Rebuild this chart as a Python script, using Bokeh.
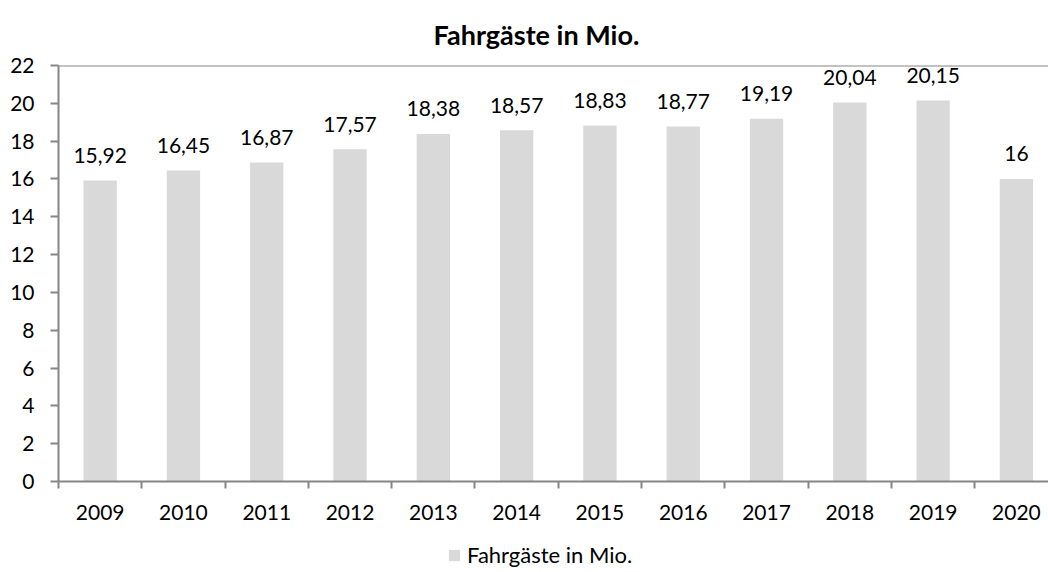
from bokeh.plotting import figure
from bokeh.layouts import column
from bokeh.models import (Range1d, FixedTicker, ColumnDataSource, Legend, LegendItem,
                          Span, Title)
from bokeh.core.properties import value
from bokeh.embed import file_html
from bokeh.resources import INLINE

years = ["2009", "2010", "2011", "2012", "2013", "2014", "2015", "2016", "2017", "2018", "2019", "2020"]
passengers = [15.92, 16.45, 16.87, 17.57, 18.38, 18.57, 18.83, 18.77, 19.19, 20.04, 20.15, 16.0]
y_ticks = [0, 2, 4, 6, 8, 10, 12, 14, 16, 18, 20, 22]
series_name = "Fahrgäste in Mio."

def fmt(v):
    if float(v).is_integer():
        return str(int(v))
    return f"{v:.2f}".replace(".", ",")

xs = list(range(len(years)))
src = ColumnDataSource(dict(x=xs, y=passengers, lbl=[fmt(v) for v in passengers]))

FONT = "Lato"
AX = "#868686"
BAR = "#d9d9d9"
NUM_SIZE = "21px"

p = figure(frame_width=990, frame_height=416, output_backend="svg", toolbar_location=None,
           x_range=Range1d(-0.5, 11.385), y_range=Range1d(0, 22),
           min_border_left=58, min_border_right=0, min_border_top=65, min_border_bottom=55)
p.title = Title(text=series_name, align="left", offset=375, standoff=30, text_font=FONT,
                text_font_size="27px", text_font_style="bold", text_color="black")
p.outline_line_color = None
p.xgrid.grid_line_color = None
p.ygrid.grid_line_color = None

r = p.vbar(x="x", top="y", width=0.4, source=src, fill_color=BAR, line_color=None)
p.text(x="x", y="y", text="lbl", source=src, text_align="center", text_baseline="middle",
       y_offset=-25, text_font=value(FONT), text_font_size=NUM_SIZE, text_color="black")

# y axis
ya = p.yaxis[0]
ya.ticker = FixedTicker(ticks=y_ticks)
ya.axis_line_color = AX
ya.axis_line_width = 2
ya.major_tick_line_color = AX
ya.major_tick_line_width = 2
ya.major_tick_in = 0
ya.major_tick_out = 8
ya.minor_tick_line_color = None
ya.major_label_standoff = 16
ya.major_label_text_font = FONT
ya.major_label_text_font_size = NUM_SIZE
ya.major_label_text_color = "black"

# x axis
xa = p.xaxis[0]
xa.ticker = FixedTicker(ticks=xs, minor_ticks=[i - 0.5 for i in xs])
xa.major_label_overrides = {i: y for i, y in enumerate(years)}
xa.axis_line_color = AX
xa.axis_line_width = 2
xa.major_tick_line_color = None
xa.major_tick_out = 0
xa.major_tick_in = 0
xa.minor_tick_line_color = AX
xa.minor_tick_line_width = 2
xa.minor_tick_in = 0
xa.minor_tick_out = 7
xa.major_label_standoff = 16
xa.major_label_text_font = FONT
xa.major_label_text_font_size = NUM_SIZE
xa.major_label_text_color = "black"

p.add_layout(Span(location=22, dimension="width", line_color=AX, line_width=2))

# legend strip below the chart (swatch renderer lies outside its visible range)
p2 = figure(width=1048, height=36, output_backend="svg", toolbar_location=None,
            x_range=Range1d(0, 1), y_range=Range1d(0, 1), x_axis_type=None, y_axis_type=None,
            min_border=0)
p2.outline_line_color = None
p2.xgrid.grid_line_color = None
p2.ygrid.grid_line_color = None
swatch_src = ColumnDataSource(dict(x=[5.0], top=[-1.0]))
dummy = p2.vbar(x="x", top="top", width=0.4, source=swatch_src, fill_color=BAR, line_color=None)
legend = Legend(items=[LegendItem(label=series_name, renderers=[dummy])], orientation="horizontal",
                location=(389, 4), border_line_color=None, background_fill_alpha=0,
                label_text_font=FONT, label_text_font_size="22px", label_text_color="black",
                glyph_width=14, glyph_height=14, label_standoff=6, padding=0, margin=0)
p2.add_layout(legend, "center")

open("out.html", "w").write(file_html(column(p, p2), INLINE))
